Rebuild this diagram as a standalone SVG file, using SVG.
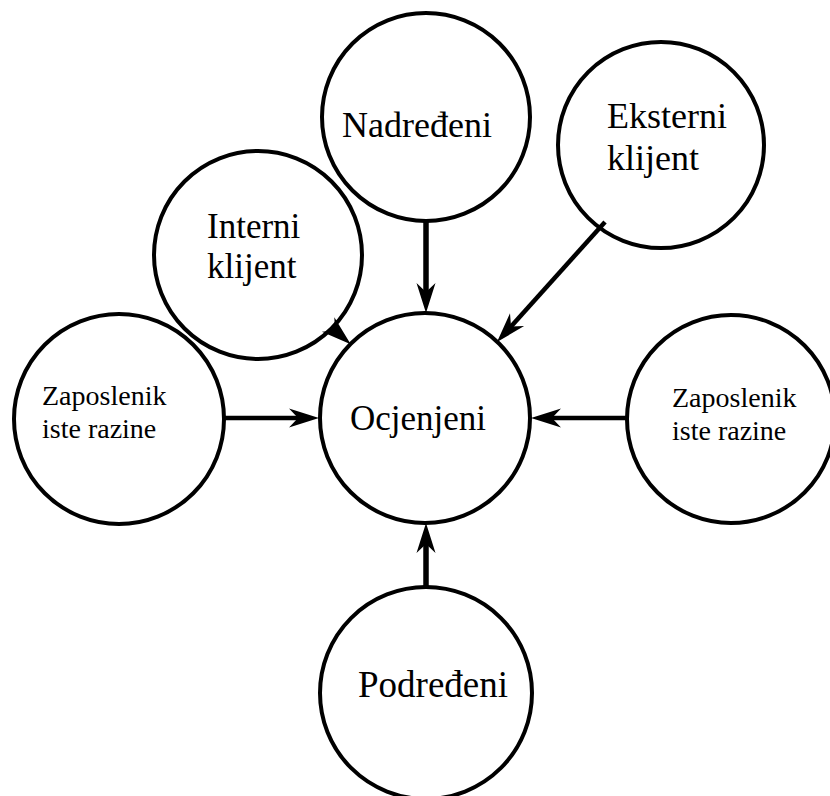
<svg xmlns="http://www.w3.org/2000/svg" width="830" height="796" viewBox="0 0 830 796">
<style>
.node circle{fill:#fff;stroke:#000;stroke-width:4}
text{font-family:'Liberation Serif','Times New Roman','DejaVu Serif',serif;fill:#000}
.big{font-size:36px}
.small{font-size:28px}
.conn line{stroke:#000;fill:none;marker-end:url(#arr)}
</style>
<defs>
<marker id="arr" viewBox="0 -10 33 20" markerWidth="33" markerHeight="20" refX="13" refY="0" orient="auto" markerUnits="userSpaceOnUse">
<path d="M32,0 L2,-9.5 L11,0 L2,9.5 Z" fill="#000"/>
</marker>
</defs>
<rect width="830" height="796" fill="#fff"/>
<g id="n-nadredeni" class="node"><circle cx="426" cy="117" r="104"/><text class="big" x="342" y="137" font-family="Liberation Serif, serif">Nadređeni</text></g>
<g id="n-interni" class="node"><circle cx="258" cy="255" r="104"/><text font-family="Liberation Serif, serif" font-size="35" x="207" y="238">Interni</text><text font-family="Liberation Serif, serif" font-size="35" x="207" y="278">klijent</text></g>
<g id="n-eksterni" class="node"><circle cx="661" cy="145" r="103"/><text class="big" font-family="Liberation Serif, serif" x="607" y="128">Eksterni</text><text class="big" font-family="Liberation Serif, serif" x="607" y="170">klijent</text></g>
<g id="n-ocjenjeni" class="node"><circle cx="425" cy="418" r="105"/><text font-family="Liberation Serif, serif" font-size="35" x="350" y="430">Ocjenjeni</text></g>
<g id="n-zap-left" class="node"><circle cx="119" cy="419" r="105"/><text class="small" font-family="Liberation Serif, serif" x="42" y="405">Zaposlenik</text><text class="small" font-family="Liberation Serif, serif" x="42" y="438">iste razine</text></g>
<g id="n-zap-right" class="node"><circle cx="731" cy="419" r="104"/><text class="small" font-family="Liberation Serif, serif" x="672" y="407">Zaposlenik</text><text class="small" font-family="Liberation Serif, serif" x="672" y="440">iste razine</text></g>
<g id="n-podredeni" class="node"><circle cx="426" cy="693" r="106"/><text font-family="Liberation Serif, serif" font-size="37" x="358" y="697">Podređeni</text></g>
<g id="connectors" class="conn">
<line x1="426" y1="221" x2="426" y2="294" stroke-width="5.5"/>
<line x1="426" y1="588" x2="426" y2="542" stroke-width="5.5"/>
<line x1="225" y1="418" x2="300" y2="418" stroke-width="4.5"/>
<line x1="627" y1="418" x2="550" y2="418" stroke-width="4.5"/>
<line x1="605" y1="222" x2="509.7" y2="327.9" stroke-width="4.5"/>
<line x1="331" y1="327" x2="336.4" y2="331.7" stroke-width="4.5"/>
</g>
</svg>
